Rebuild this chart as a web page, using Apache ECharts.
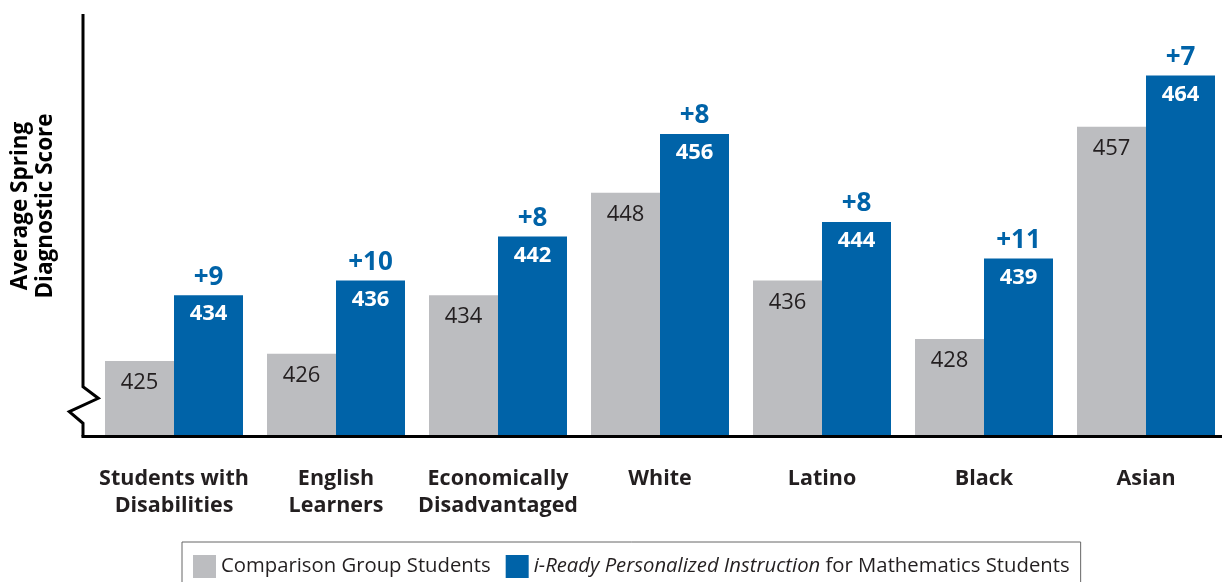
<!DOCTYPE html>
<html>
<head>
<meta charset="utf-8">
<script src="https://cdn.jsdelivr.net/npm/echarts@6/dist/echarts.min.js"></script>
<style>
  html, body { margin: 0; padding: 0; background: #fff; }
  #chart { width: 1224px; height: 582px; }
</style>
</head>
<body>
<div id="chart"></div>
<script>
// data
const categories = ['Students with\nDisabilities', 'English\nLearners', 'Economically\nDisadvantaged', 'White', 'Latino', 'Black', 'Asian'];
const comparisonScores = [425, 426, 434, 448, 436, 428, 457];
const iReadyScores = [434, 436, 442, 456, 444, 439, 464];
const gains = [9, 10, 8, 8, 8, 11, 7];

const FONT = '"Open Sans", "Noto Sans", sans-serif';
const GRAY = '#bcbdc0';
const BLUE = '#0063a8';

// y axis is broken, so the scale does not start at zero
const yMin = 414.7;
const yMax = 472.4;

const chart = echarts.init(document.getElementById('chart'));

// axis line with the break zigzag, drawn as decoration
const axisX = 83;
const axisTop = 14;
const axisBottom = 436.5;

chart.setOption({
  animation: false,
  textStyle: { fontFamily: FONT },
  grid: {
    left: 93,
    width: 1134,
    top: 14,
    bottom: 582 - 436.5,
    containLabel: false,
    outerBoundsMode: 'none'
  },
  legend: {
    data: ['Comparison Group Students', 'iReady'],
    left: 182,
    top: 542,
    orient: 'horizontal',
    itemWidth: 23,
    itemHeight: 23,
    itemGap: 15,
    padding: [13, 11, 10, 11],
    borderColor: '#666',
    borderWidth: 1,
    icon: 'rect',
    formatter: function (name) {
      if (name === 'iReady') {
        return '{i|i-Ready Personalized Instruction} for Mathematics Students';
      }
      return name;
    },
    textStyle: {
      fontFamily: FONT,
      fontSize: 20.3,
      color: '#231f20',
      rich: {
        i: { fontFamily: FONT, fontSize: 20.3, fontStyle: 'italic', color: '#231f20' }
      }
    }
  },
  xAxis: {
    type: 'category',
    data: categories,
    axisLine: { show: false },
    axisTick: { show: false },
    axisLabel: {
      interval: 0,
      margin: 29,
      fontFamily: FONT,
      fontSize: 21.5,
      fontWeight: 'bold',
      lineHeight: 27,
      color: '#231f20'
    }
  },
  yAxis: {
    type: 'value',
    min: yMin,
    max: yMax,
    axisLine: { show: false },
    axisTick: { show: false },
    axisLabel: { show: false },
    splitLine: { show: false }
  },
  graphic: [
    {
      type: 'polyline',
      shape: {
        points: [
          [axisX, axisTop], [axisX, 386.7], [98.3, 398.3],
          [69.3, 411.7], [axisX, 423.3], [axisX, axisBottom]
        ]
      },
      style: { stroke: '#000', lineWidth: 3, fill: null },
      z: 10
    },
    {
      type: 'line',
      shape: { x1: axisX - 1.5, y1: axisBottom, x2: 1222, y2: axisBottom },
      style: { stroke: '#000', lineWidth: 3 },
      z: 10
    },
    {
      type: 'text',
      x: 33,
      y: 206,
      rotation: Math.PI / 2,
      style: {
        text: 'Average Spring\nDiagnostic Score',
        fontFamily: FONT,
        fontSize: 22.5,
        fontWeight: 'bold',
        lineHeight: 25,
        fill: '#000',
        align: 'center',
        verticalAlign: 'middle'
      }
    }
  ],
  series: [
    {
      name: 'Comparison Group Students',
      type: 'bar',
      data: comparisonScores,
      barWidth: 69,
      barGap: '0%',
      itemStyle: { color: GRAY },
      label: {
        show: true,
        position: 'insideTop',
        distance: 11,
        fontFamily: FONT,
        fontSize: 22,
        color: '#231f20'
      }
    },
    {
      name: 'iReady',
      type: 'bar',
      stack: 'iready',
      data: iReadyScores,
      barWidth: 69,
      itemStyle: { color: BLUE },
      label: {
        show: true,
        position: 'insideTop',
        distance: 8,
        fontFamily: FONT,
        fontSize: 22,
        fontWeight: 'bold',
        color: '#fff'
      }
    },
    {
      name: 'gain',
      type: 'bar',
      stack: 'iready',
      data: gains.map(() => 0),
      barWidth: 69,
      itemStyle: { color: BLUE },
      label: {
        show: true,
        position: 'top',
        distance: 5,
        fontFamily: FONT,
        fontSize: 26,
        fontWeight: 'bold',
        color: BLUE,
        formatter: function (p) { return '+' + gains[p.dataIndex]; }
      }
    }
  ]
});
</script>
</body>
</html>
